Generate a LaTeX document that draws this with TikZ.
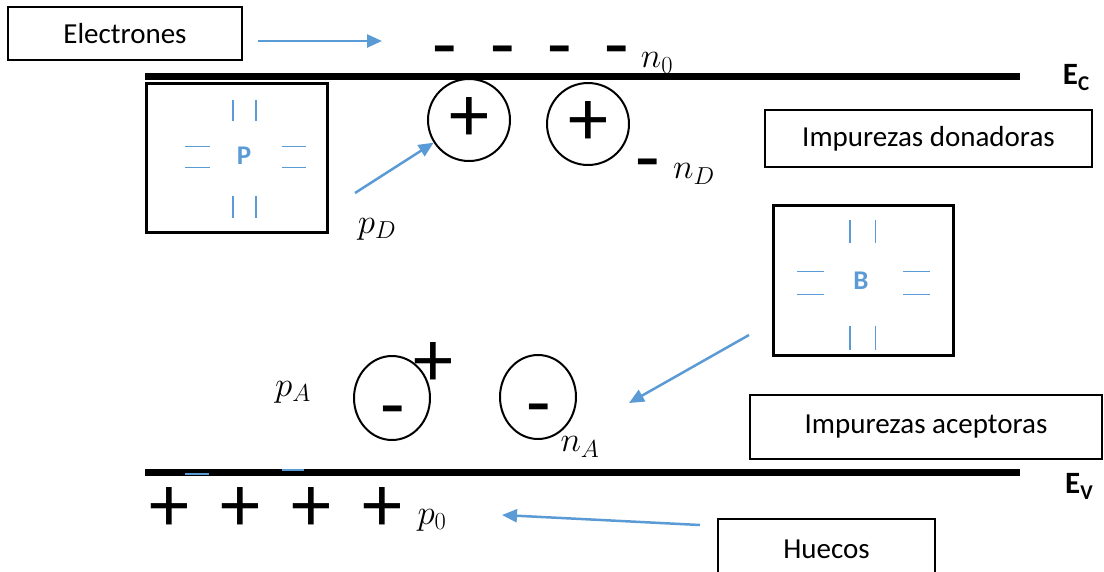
\RequirePackage{fix-cm}
\documentclass[tikz,border=0pt]{standalone}
\usepackage{fontspec}
\setmainfont{Carlito}
\usetikzlibrary{arrows.meta,positioning,shapes.geometric}
\definecolor{bandblue}{RGB}{91,155,213}

\begin{document}
\begin{tikzpicture}[x=1pt,y=-1pt,
    tagbox/.style={draw,line width=2pt,inner sep=0pt,font=\fontsize{29}{32}\selectfont},
    atom/.style={draw,line width=3pt,inner sep=0pt},
    ion/.style={circle,draw,line width=2pt,minimum size=82pt,inner sep=0pt,
      font=\fontsize{80}{84}\selectfont},
    acc/.style={ellipse,draw,line width=2pt,minimum width=76pt,minimum height=84pt,inner sep=0pt},
    sign/.style={inner sep=0pt,font=\fontsize{80}{84}\selectfont},
    sym/.style={inner sep=0pt,font=\fontsize{35}{38}\selectfont},
    lvl/.style={inner sep=0pt,font=\fontsize{31}{34}\selectfont\bfseries},
    dopant/.style={inner sep=0pt,text=bandblue,font=\fontsize{27}{30}\selectfont\bfseries},
    band/.style={line width=7pt},
    bond/.style={bandblue,line width=1.3pt},
    a/.style={-{Triangle[length=15pt,width=13pt]},line width=2.5pt,bandblue},
    pics/lattice/.style={code={
      \draw[bond] (-11.5,-57)--(-11.5,-36) (11.5,-57)--(11.5,-36);
      \draw[bond] (-11.5,39)--(-11.5,61) (11.5,39)--(11.5,61);
      \draw[bond] (-60,-10.5)--(-35,-10.5) (-60,10.5)--(-35,10.5);
      \draw[bond] (37,-10.5)--(61,-10.5) (37,10.5)--(61,10.5);
    }}]
  \useasboundingbox (0,0) rectangle (1104,571);

  % conduction band
  \node[sym] (n0) at (657,63) {$n_0$};
  \draw[band] (145,76.5) -- (1020,76.5);
  \node[lvl] (ec) at (1076,78) {E\raisebox{-6pt}{\fontsize{21}{22}\selectfont C}};
  \node[sign] (e1) at (445,59) {-};
  \node[sign] (e2) at (503,59) {-};
  \node[sign] (e3) at (560,59) {-};
  \node[sign] (e4) at (617,59) {-};

  \node[tagbox,minimum width=234pt,minimum height=53pt] (elec) at (125,33.5) {Electrones};
  \coordinate (etail) at (258,41);
  \coordinate (etip) at (382,41);
  \draw[a] (etail) -- (etip);

  % donor
  \node[atom,minimum width=181pt,minimum height=149pt] (pbox) at (236.5,157.5) {};
  \pic at (244.5,157) {lattice};
  \node[dopant] (pl) at (244,156) {P};
  \node[ion] (d1) at (469,120) {+};
  \node[ion] (d2) at (588,124) {+};
  \node[sign] (nd) at (648,172) {-};
  \node[sym] (ndl) at (694,174) {$n_D$};
  \node[sym] (pd) at (377,229) {$p_D$};
  \coordinate (pdtail) at (355,193);
  \draw[a] (pdtail) -- (d1);
  \node[tagbox,minimum width=327pt,minimum height=57pt] (don) at (928.5,138.5) {Impurezas donadoras};

  % acceptor
  \node[atom,minimum width=180pt,minimum height=150pt] (bbox) at (863,280) {};
  \pic[scale=1.1] at (862.5,283) {lattice};
  \node[dopant] (bl) at (861,281) {B};
  \coordinate (btail) at (749,335);
  \coordinate (btip) at (629,403);
  \draw[a] (btail) -- (btip);
  \node[acc] (a1) at (392,398) {};
  \node[acc] (a2) at (538,397) {};
  \node[sign] (m1) at (393,419) {-};
  \node[sign] (m2) at (539,417) {-};
  \node[sign] (h1) at (433,365) {+};
  \node[sym] (pa) at (293,392) {$p_A$};
  \node[sym] (na) at (580,447) {$n_A$};
  \node[tagbox,minimum width=352pt,minimum height=64pt] (acep) at (926,427) {Impurezas aceptoras};

  % valence band
  \draw[band] (145,472.5) -- (1020,472.5);
  \draw[bond] (185,474) -- (209,474);
  \draw[bond] (282,470) -- (304,470);
  \node[lvl] (ev) at (1079,486) {E\raisebox{-6pt}{\fontsize{21}{22}\selectfont V}};
  \node[sign] (p1) at (169,510) {+};
  \node[sign] (p2) at (240,510) {+};
  \node[sign] (p3) at (311,510) {+};
  \node[sign] (p4) at (382,510) {+};
  \node[sym] (p0) at (432,520) {$p_0$};

  \node[tagbox,minimum width=217pt,minimum height=61pt] (hue) at (826.5,549.5) {Huecos};
  \coordinate (htail) at (700,525);
  \coordinate (htip) at (502,515);
  \draw[a] (htail) -- (htip);
\end{tikzpicture}
\end{document}
